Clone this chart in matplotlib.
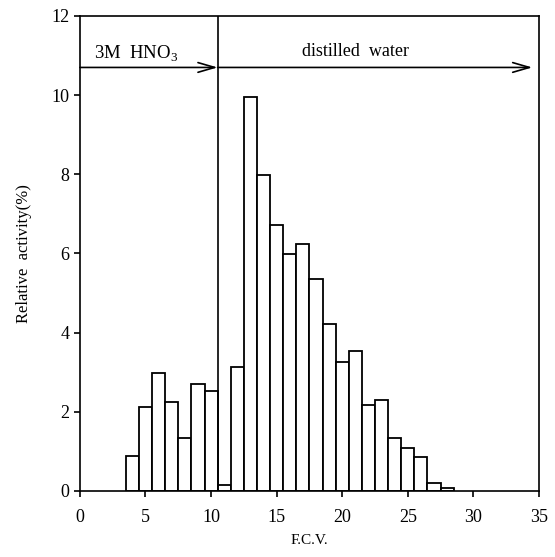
import numpy as np
import matplotlib.pyplot as plt

plt.rcParams['font.family'] = ['Liberation Serif', 'DejaVu Serif']

# fraction number (F.C.V.) and relative activity (%)
fcv = [4, 5, 6, 7, 8, 9, 10, 11, 12, 13, 14, 15, 16, 17, 18, 19, 20,
       21, 22, 23, 24, 25, 26, 27, 28]
activity = [0.89, 2.12, 2.98, 2.26, 1.33, 2.70, 2.52, 0.14, 3.12, 9.95,
            7.98, 6.73, 5.98, 6.23, 5.35, 4.23, 3.27, 3.54, 2.18, 2.31,
            1.35, 1.08, 0.86, 0.20, 0.08]

switch_x = 10.5      # eluent change
arrow_y = 10.7

fig = plt.figure(figsize=(5.55, 5.57), dpi=100)
ax = fig.add_axes([0.144, 0.1185, 0.827, 0.8528])

ax.bar(fcv, activity, width=1.0, facecolor='white', edgecolor='black',
       linewidth=1.3)

# eluent bar: vertical divider + arrows
ax.axvline(switch_x, color='black', linewidth=1.2)
ax.annotate('', xy=(switch_x, arrow_y), xytext=(0, arrow_y),
            arrowprops=dict(arrowstyle='->,head_length=1.2,head_width=0.35',
                            color='black', lw=1.2, shrinkA=0, shrinkB=0))
ax.annotate('', xy=(34.5, arrow_y), xytext=(switch_x, arrow_y),
            arrowprops=dict(arrowstyle='->,head_length=1.2,head_width=0.35',
                            color='black', lw=1.2, shrinkA=0, shrinkB=0))
ax.text(1.1, 11.05, r'3M  HNO$_{\mathregular{3}}$', fontsize=13.5, va='center',
        ha='left')
ax.text(21.0, 11.1, 'distilled  water', fontsize=13, va='center', ha='center')

ax.set_xlim(0, 35)
ax.set_ylim(0, 12)
ax.set_xticks(np.arange(0, 36, 5))
ax.set_yticks(np.arange(0, 13, 2))
ax.tick_params(direction='out', length=4, width=1.2, labelsize=13)
ax.tick_params(axis='x', pad=9)
for s in ax.spines.values():
    s.set_linewidth(1.2)

ax.set_xlabel('F.C.V.', fontsize=11, labelpad=6)
ax.set_ylabel('Relative  activity(%)', fontsize=12, labelpad=14)

fig.savefig('out.png', dpi=100)
